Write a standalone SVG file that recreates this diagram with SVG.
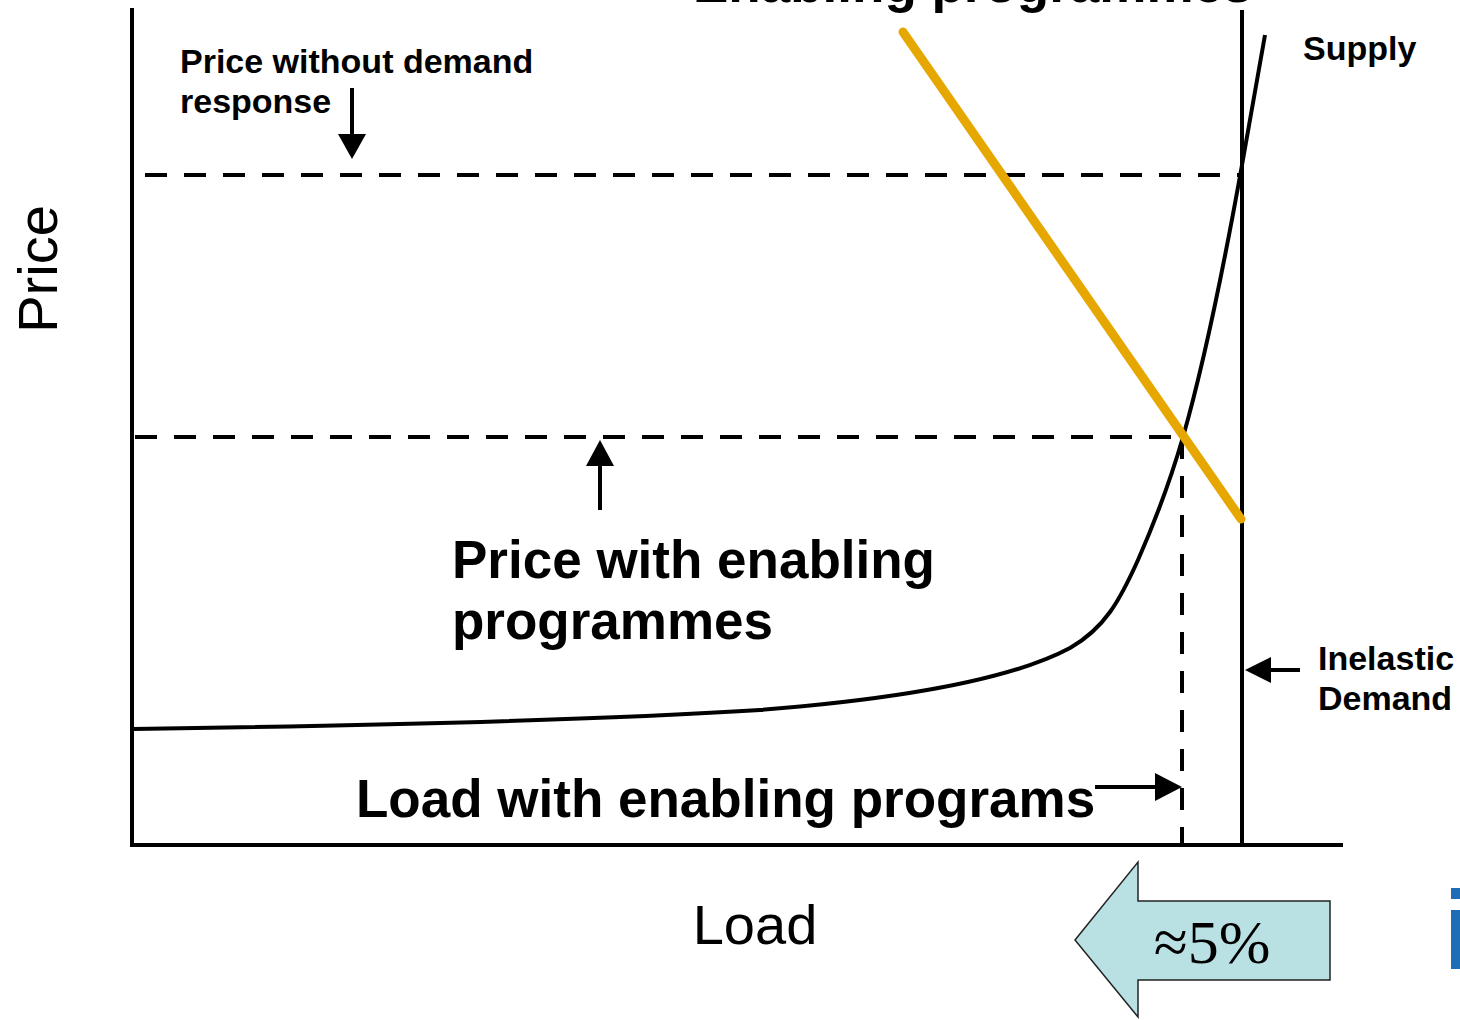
<svg xmlns="http://www.w3.org/2000/svg" width="1460" height="1020" viewBox="0 0 1460 1020">
<style>
.b{font-family:"Liberation Sans",Arial,sans-serif;font-weight:bold;fill:#000}
.n{font-family:"Liberation Sans",Arial,sans-serif;fill:#000}
.ax{stroke:#000;stroke-width:4;fill:none}
.dash{stroke:#000;stroke-width:4;stroke-dasharray:22 17;fill:none}
.ar{stroke:#000;stroke-width:4;fill:none}
</style>
<rect width="1460" height="1020" fill="#fff"/>
<g id="axes">
<line class="ax" x1="132" y1="8" x2="132" y2="847"/>
<line class="ax" x1="130" y1="845" x2="1343" y2="845"/>
</g>
<g id="inelastic-demand-line">
<line class="ax" x1="1242" y1="10" x2="1242" y2="845"/>
</g>
<g id="guides">
<line class="dash" x1="145" y1="175" x2="1242" y2="175"/>
<line class="dash" x1="135" y1="437" x2="1182" y2="437"/>
<line class="dash" x1="1182" y1="437" x2="1182" y2="845"/>
</g>
<g id="supply-curve">
<path d="M133,729 C350,726 600,720 760,710 C900,699 1010,680 1070,648 C1105,628 1120,600 1138,560 C1160,510 1172,475 1183,437 C1205,360 1225,260 1242,165 L1265,35" fill="none" stroke="#000" stroke-width="4"/>
</g>
<g id="enabling-line">
<line x1="903" y1="32" x2="1241" y2="519" stroke="#E6A800" stroke-width="9" stroke-linecap="round"/>
</g>
<g id="connectors">
<line class="ar" x1="352" y1="88" x2="352" y2="136"/>
<polygon points="338,134 366,134 352,159" fill="#000"/>
<line class="ar" x1="600" y1="510" x2="600" y2="462"/>
<polygon points="586,466 614,466 600,440" fill="#000"/>
<line class="ar" x1="1095" y1="787" x2="1158" y2="787"/>
<polygon points="1155,773 1155,801 1182,787" fill="#000"/>
<line class="ar" x1="1300" y1="670" x2="1268" y2="670"/>
<polygon points="1271,657 1271,683 1245,670" fill="#000"/>
</g>
<g id="labels">
<text class="b" x="693" y="2" font-size="53">Enabling programmes</text>
<text class="b" x="1303" y="60" font-size="34">Supply</text>
<text class="b" x="180" y="73" font-size="34">Price without demand</text>
<text class="b" x="180" y="113" font-size="34">response</text>
<text class="b" x="452" y="578" font-size="53">Price with enabling</text>
<text class="b" x="452" y="639" font-size="53">programmes</text>
<text class="b" x="356" y="817" font-size="53">Load with enabling programs</text>
<text class="b" x="1318" y="670" font-size="34">Inelastic</text>
<text class="b" x="1318" y="710" font-size="34">Demand</text>
<text class="n" transform="translate(57,269) rotate(-90)" text-anchor="middle" font-size="56">Price</text>
<text class="n" x="755" y="944" text-anchor="middle" font-size="56">Load</text>
</g>
<g id="shift-arrow">
<polygon points="1075,940 1138,862 1138,901 1330,901 1330,980 1138,980 1138,1017" fill="#B9E0E3" stroke="#222" stroke-width="1.5"/>
<text x="1212" y="963" text-anchor="middle" font-family="'Liberation Serif','Times New Roman',serif" font-size="62" fill="#000">≈5%</text>
</g>
<g id="logo-fragment">
<rect x="1451" y="888" width="9" height="11" fill="#1E6EB7"/>
<rect x="1451" y="910" width="9" height="59" fill="#1E6EB7"/>
</g>
</svg>
